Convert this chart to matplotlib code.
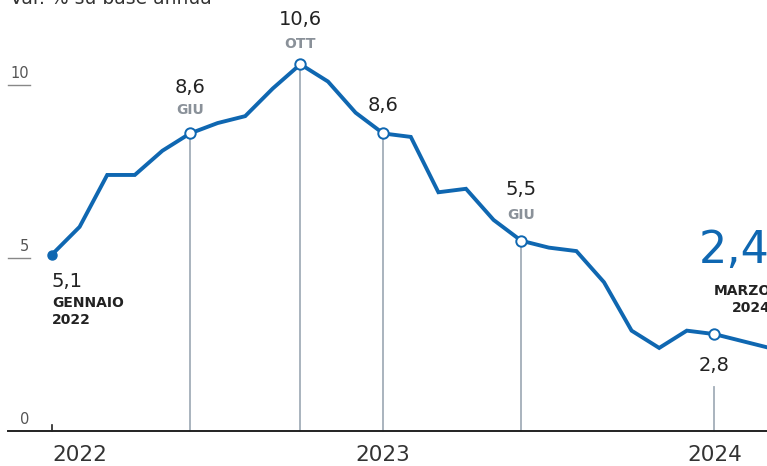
import matplotlib
matplotlib.use("Agg")
import matplotlib.pyplot as plt

plt.rcParams['font.family'] = ['DejaVu Sans']

months = list(range(27))  # Jan 2022 .. Mar 2024
values = [5.1, 5.9, 7.4, 7.4, 8.1, 8.6, 8.9, 9.1, 9.9, 10.6, 10.1, 9.2,
          8.6, 8.5, 6.9, 7.0, 6.1, 5.5, 5.3, 5.2, 4.3, 2.9, 2.4, 2.9,
          2.8, 2.6, 2.4]
year_ticks = [0, 12, 24]
year_labels = ["2022", "2023", "2024"]
ytick_vals = [0, 5, 10]
ytick_labels = ["0", "5", "10"]
hl_idx = [5, 9, 12, 17, 24]

BLUE = "#0f67b1"
GRAY_LINE = "#a3aeb9"
DARK = "#222222"
MGRAY = "#8a9199"

fig = plt.figure(figsize=(7.67, 4.66), dpi=100)
ax = fig.add_axes([0, 0, 1, 1])
X0, X1 = -1.884, 25.906
ax.set_xlim(X0, X1)
ax.set_ylim(-1.012, 12.457)
ax.axis('off')

dx = 1 / 27.6   # months per px
dy = 1 / 34.6   # units per px

# drop lines
for i in hl_idx:
    top = values[i] if i != 24 else (431 - 387) * dy
    ax.plot([months[i], months[i]], [0, top], color=GRAY_LINE, lw=1.3, zorder=1)

# axis line
ax.plot([X0 + 8 * dx, 26], [0, 0], color=DARK, lw=1.4, zorder=2, clip_on=False)
ax.plot([0, 0], [0, 6 * dy], color=DARK, lw=1.2, zorder=2)

# y ticks
for v, lab in zip(ytick_vals, ytick_labels):
    ax.text(X0 + 29 * dx, v + 4 * dy, lab, ha='right', va='bottom',
            fontsize=10.5, color="#555555")
    if v != 0:
        ax.plot([X0 + 8 * dx, X0 + 30 * dx], [v, v], color="#888888", lw=1.0)

# year labels
for m, lab in zip(year_ticks, year_labels):
    ha = 'left' if m == 0 else 'center'
    ax.text(m, -24 * dy, lab, ha=ha, va='center', fontsize=15.5, color="#333333")

# series line
ax.plot(months, values, color=BLUE, lw=2.8, zorder=3, solid_joinstyle='miter')
ax.plot([months[0]], [values[0]], 'o', color=BLUE, ms=6.5, zorder=4)
for i in hl_idx:
    ax.plot([months[i]], [values[i]], 'o', mfc='white', mec=BLUE, mew=1.4, ms=7.5, zorder=4)

def fmt(v):
    return f"{v:.1f}".replace('.', ',')

VS = 14
MS = 10

# Jan 2022
ax.text(0, values[0] - 27 * dy, fmt(values[0]), ha='left', va='center', fontsize=VS, color=DARK)
ax.text(0, values[0] - 41 * dy, "GENNAIO\n2022", ha='left', va='top', fontsize=MS,
        fontweight='bold', color=DARK, linespacing=1.3)

# Jun 2022
i = 5
ax.text(months[i], values[i] + 46 * dy, fmt(values[i]), ha='center', va='center', fontsize=VS, color=DARK)
ax.text(months[i], values[i] + 23 * dy, "GIU", ha='center', va='center', fontsize=MS, fontweight='bold', color=MGRAY)
# Oct 2022
i = 9
ax.text(months[i], values[i] + 45 * dy, fmt(values[i]), ha='center', va='center', fontsize=VS, color=DARK)
ax.text(months[i], values[i] + 20 * dy, "OTT", ha='center', va='center', fontsize=MS, fontweight='bold', color=MGRAY)
# Jan 2023
i = 12
ax.text(months[i], values[i] + 28 * dy, fmt(values[i]), ha='center', va='center', fontsize=VS, color=DARK)
# Jun 2023
i = 17
ax.text(months[i], values[i] + 51 * dy, fmt(values[i]), ha='center', va='center', fontsize=VS, color=DARK)
ax.text(months[i], values[i] + 26 * dy, "GIU", ha='center', va='center', fontsize=MS, fontweight='bold', color=MGRAY)
# Jan 2024
i = 24
ax.text(months[i], values[i] - 31 * dy, fmt(values[i]), ha='center', va='center', fontsize=VS, color=DARK)
# Mar 2024
i = 26
ax.text(months[i] + 0.01, values[i] + 97 * dy, fmt(values[i]), ha='right', va='center', fontsize=32, color=BLUE)
ax.text(months[i] + 0.05, values[i] + 64 * dy, "MARZO\n2024", ha='right', va='top', fontsize=MS,
        fontweight='bold', color=DARK, linespacing=1.3)

# cropped subtitle
fig.text(10 / 767, 1 - 4 / 466, "Var. % su base annua", ha='left', va='baseline', fontsize=13.5, color="#333333")

fig.savefig("out.png", dpi=100, facecolor='white')
